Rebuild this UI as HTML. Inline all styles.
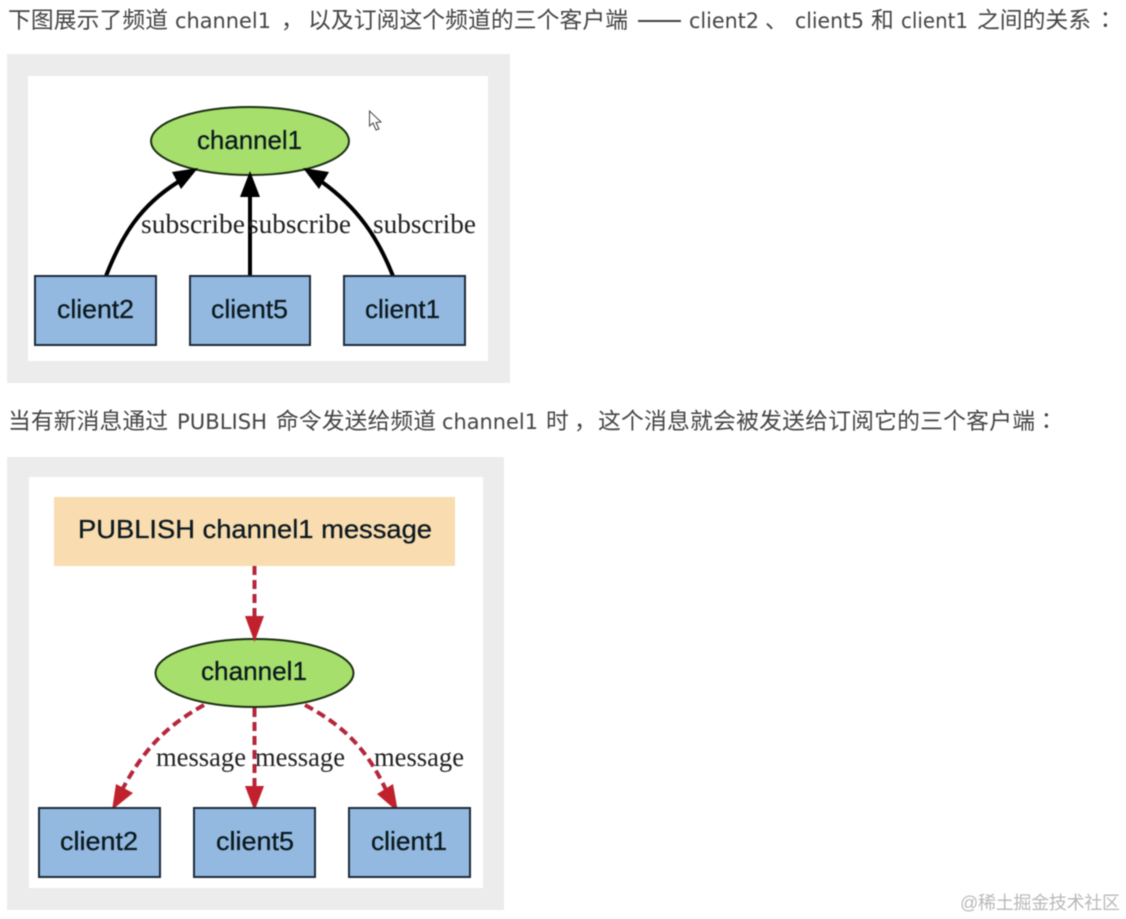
<!DOCTYPE html>
<html lang="zh-CN">
<head>
<meta charset="utf-8">
<title>频道与订阅</title>
<style>
html,body{margin:0;padding:0;background:#fff;width:1126px;height:919px;overflow:hidden}
svg{display:block;position:absolute;left:0;top:0}
.t{font-family:"DejaVu Sans","Liberation Sans",sans-serif;font-size:21px;fill:#444}
.c{font-family:"Noto Sans CJK SC","Liberation Sans",sans-serif;font-size:22.8px;fill:#444}
.p{font-family:"Noto Sans CJK TC","Liberation Sans",sans-serif;font-size:22.8px;fill:#444}
.n{font-family:"Liberation Sans",sans-serif;font-size:26px;fill:#0c1a20;stroke:#0c1a20;stroke-width:.3px}
.s{font-family:"Liberation Serif",serif;font-size:27px;fill:#222}
.d{filter:blur(.6px)}
</style>
</head>
<body>
<svg width="1126" height="919" viewBox="0 0 1126 919" xmlns="http://www.w3.org/2000/svg">
<g class="d">
<text class="c" x="8" y="28" textLength="160">下图展示了频道</text>
<text class="t" x="175" y="28" textLength="96" lengthAdjust="spacingAndGlyphs">channel1</text>
<text class="c" x="281" y="28">，</text>
<text class="c" x="308" y="28" textLength="320">以及订阅这个频道的三个客户端</text>
<rect x="638" y="20" width="43" height="2" fill="#444"/>
<text class="t" x="689" y="28" textLength="70" lengthAdjust="spacingAndGlyphs">client2</text>
<text class="c" x="765" y="28">、</text>
<text class="t" x="795" y="28" textLength="69" lengthAdjust="spacingAndGlyphs">client5</text>
<text class="c" x="871" y="28">和</text>
<text class="t" x="901" y="28" textLength="67" lengthAdjust="spacingAndGlyphs">client1</text>
<text class="c" x="977" y="28" textLength="114">之间的关系</text>
<text class="p" x="1094" y="28">：</text>

<text class="c" x="8" y="429" textLength="160">当有新消息通过</text>
<text class="t" x="177" y="429" textLength="90" lengthAdjust="spacingAndGlyphs">PUBLISH</text>
<text class="c" x="276" y="429" textLength="160">命令发送给频道</text>
<text class="t" x="442" y="429" textLength="96" lengthAdjust="spacingAndGlyphs">channel1</text>
<text class="c" x="546" y="429">时</text>
<text class="c" x="574" y="429">，</text>
<text class="c" x="598" y="429" textLength="437">这个消息就会被发送给订阅它的三个客户端</text>
<text class="p" x="1035" y="429">：</text>

<!-- Panel 1 -->
<rect x="7" y="54" width="503" height="329" fill="#ececec"/>
<rect x="28" y="76" width="460" height="285" fill="#fff"/>
<ellipse cx="250" cy="141" rx="99" ry="34" fill="#a6df6b" stroke="#1c2f14" stroke-width="2"/>
<text class="n" x="197" y="149" textLength="105" lengthAdjust="spacingAndGlyphs">channel1</text>

<g fill="none" stroke="#000" stroke-width="4">
<path d="M106 276C122 235 140 206 178 182"/>
<path d="M250 276V195"/>
<path d="M393 276C378 238 358 208 322 182"/>
</g>
<polygon points="198,168 172,172 181,189" fill="#000"/>
<polygon points="250,171 240,197 260,197" fill="#000"/>
<polygon points="303,168 329,172 319,189" fill="#000"/>

<text class="s" x="141" y="233" textLength="104" lengthAdjust="spacingAndGlyphs">subscribe</text>
<text class="s" x="248" y="233" textLength="103" lengthAdjust="spacingAndGlyphs">subscribe</text>
<text class="s" x="373" y="233" textLength="103" lengthAdjust="spacingAndGlyphs">subscribe</text>

<g fill="#93b9e0" stroke="#1d2b3a" stroke-width="2">
<rect x="35" y="276" width="121" height="69"/>
<rect x="190" y="276" width="120" height="69"/>
<rect x="344" y="276" width="121" height="69"/>
</g>
<text class="n" x="57" y="318" textLength="77" lengthAdjust="spacingAndGlyphs">client2</text>
<text class="n" x="211" y="318" textLength="77" lengthAdjust="spacingAndGlyphs">client5</text>
<text class="n" x="365" y="318" textLength="75" lengthAdjust="spacingAndGlyphs">client1</text>

<!-- Cursor -->
<path d="M369.500 111V126L373 123L376 130L379 129L376 122.500L381 122Z" fill="#fff" stroke="#444" stroke-width="1"/>

<!-- Panel 2 -->
<rect x="7" y="457" width="497" height="453" fill="#ececec"/>
<rect x="29" y="477" width="454" height="411" fill="#fff"/>
<rect x="54" y="497" width="401" height="69" fill="#f9dcaf"/>
<text class="n" x="78" y="538" textLength="354" lengthAdjust="spacingAndGlyphs">PUBLISH channel1 message</text>

<ellipse cx="254.500" cy="673" rx="99" ry="34" fill="#a6df6b" stroke="#1c2f14" stroke-width="2"/>
<text class="n" x="201" y="680" textLength="106" lengthAdjust="spacingAndGlyphs">channel1</text>

<g fill="none" stroke="#b5263a" stroke-width="4" stroke-dasharray="9 5">
<path d="M254.500 566V618"/>
<path d="M204 705C170 724 146 745 122 790"/>
<path d="M254.500 708V788"/>
<path d="M305 705C340 724 365 745 386 790"/>
</g>
<g fill="#c1212d">
<polygon points="254.500,642 245,616 264,616"/>
<polygon points="112,810 116,784 133,793"/>
<polygon points="254.500,811 245,786 264,786"/>
<polygon points="398,812 377,794 393,784"/>
</g>

<text class="s" x="156" y="766" textLength="90" lengthAdjust="spacingAndGlyphs">message</text>
<text class="s" x="255" y="766" textLength="90" lengthAdjust="spacingAndGlyphs">message</text>
<text class="s" x="374" y="766" textLength="90" lengthAdjust="spacingAndGlyphs">message</text>

<g fill="#93b9e0" stroke="#1d2b3a" stroke-width="2">
<rect x="39" y="808" width="121" height="69"/>
<rect x="194" y="808" width="121" height="69"/>
<rect x="349" y="808" width="121" height="69"/>
</g>
<text class="n" x="60" y="850" textLength="78" lengthAdjust="spacingAndGlyphs">client2</text>
<text class="n" x="216" y="850" textLength="78" lengthAdjust="spacingAndGlyphs">client5</text>
<text class="n" x="371" y="850" textLength="76" lengthAdjust="spacingAndGlyphs">client1</text>

<text x="960" y="909" textLength="160" style="font-family:'Liberation Sans','Noto Sans CJK SC',sans-serif;font-size:18px;fill:#b9b9b9">@稀土掘金技术社区</text>
</g>
</svg>
</body>
</html>
